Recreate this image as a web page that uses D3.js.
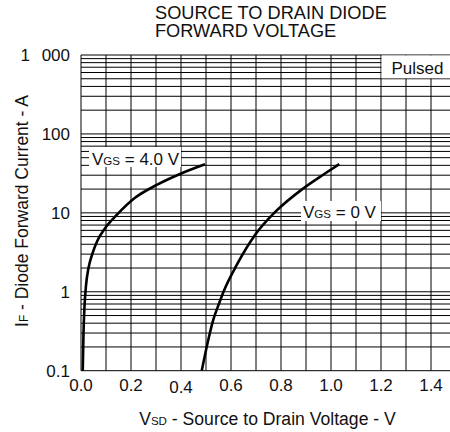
<!DOCTYPE html>
<html><head><meta charset="utf-8">
<script src="https://cdn.jsdelivr.net/npm/d3@7"></script>
<style>
html,body{margin:0;padding:0;background:#fff;}
svg{display:block;font-family:"Liberation Sans",Arial,Helvetica,sans-serif;}
</style></head>
<body>
<svg id="c" width="450" height="432"></svg>
<script>
// ---- data ----
const titleLines = ["SOURCE TO DRAIN DIODE", "FORWARD VOLTAGE"];
const xTickValues = [0, 0.2, 0.4, 0.6, 0.8, 1.0, 1.2, 1.4];
const xTickLabels = ["0.0", "0.2", "0.4", "0.6", "0.8", "1.0", "1.2", "1.4"];
const yTickValues = [0.1, 1, 10, 100, 1000];
const yTickLabels = ["0.1", "1", "10", "100", "1 000"];
// V_GS = 4.0 V
const vgs4V = [0.007, 0.010, 0.014, 0.020, 0.030, 0.045, 0.065, 0.095, 0.143, 0.216, 0.303, 0.403, 0.496];
const vgs4I = [0.1, 0.3, 0.65, 1.2, 2.0, 3.0, 4.4, 6.3, 9.4, 15.5, 22.6, 31.8, 41.3];
// V_GS = 0 V
const vgs0V = [0.483, 0.509, 0.529, 0.553, 0.570, 0.623, 0.696, 0.780, 0.890, 0.976, 1.033];
const vgs0I = [0.1, 0.245, 0.44, 0.72, 1.0, 2.19, 5.25, 10.5, 20.5, 31.5, 41.5];

// ---- layout ----
const svg = d3.select("#c");
const x = d3.scaleLinear().domain([0, 1.5]).range([81, 456]);
const y = d3.scaleLog().domain([0.1, 1000]).range([370.7, 55]);
const FS = 17;

// grid
const g = svg.append("g");
const xGrid = d3.range(0, 16).map(i => i / 10);
g.selectAll("line.vg").data(xGrid).join("line")
  .attr("x1", d => x(d)).attr("x2", d => x(d))
  .attr("y1", y(1000)).attr("y2", y(0.1))
  .attr("stroke", "#000").attr("stroke-width", 1);
const yGrid = [];
[0.1, 1, 10, 100].forEach(dec => { for (let k = 1; k <= 9; k++) yGrid.push(dec * k); });
yGrid.push(1000);
g.selectAll("line.hg").data(yGrid).join("line")
  .attr("x1", x(0)).attr("x2", x(1.5))
  .attr("y1", d => y(d)).attr("y2", d => y(d))
  .attr("stroke", "#000").attr("stroke-width", 1);

// label boxes (white, no border)
svg.append("rect").attr("x", x(1.2) + 0.5).attr("y", y(1000) + 0.5)
  .attr("width", x(1.5) - x(1.2)).attr("height", y(500) - y(1000) - 1).attr("fill", "#fff");
svg.append("rect").attr("x", 89).attr("y", 147).attr("width", 92).attr("height", 20).attr("fill", "#fff");
svg.append("rect").attr("x", 301).attr("y", 201).attr("width", 80).attr("height", 20).attr("fill", "#fff");

// curves
const line = d3.line().x(d => x(d[0])).y(d => y(d[1])).curve(d3.curveMonotoneX);
svg.append("path").datum(vgs4V.map((v, i) => [v, vgs4I[i]]))
  .attr("d", line).attr("fill", "none").attr("stroke", "#000").attr("stroke-width", 2.6);
svg.append("path").datum(vgs0V.map((v, i) => [v, vgs0I[i]]))
  .attr("d", line).attr("fill", "none").attr("stroke", "#000").attr("stroke-width", 2.6);

// axes ticks labels
svg.append("g").selectAll("text").data(xTickValues).join("text")
  .attr("x", d => x(d)).attr("y", d => d === 0.4 ? 393 : 391).attr("text-anchor", "middle")
  .attr("font-size", FS).attr("fill", "#111").text((d, i) => xTickLabels[i]);
svg.append("g").selectAll("text").data(yTickValues).join("text")
  .attr("x", 70).attr("y", d => y(d) + 6).attr("text-anchor", "end")
  .attr("font-size", FS).attr("fill", "#111")
  .style("word-spacing", d => d === 1000 ? "7px" : null)
  .text((d, i) => yTickLabels[i]);

// title (one text element, two lines)
svg.append("text").attr("font-size", 18.2).attr("fill", "#111")
  .selectAll("tspan").data(titleLines).join("tspan")
  .attr("x", 155).attr("y", (d, i) => 19.3 + i * 17.4)
  .text(d => d);

// in-plot labels
function subLabel(px, py, main, sub, rest, anchor) {
  const t = svg.append("text").attr("x", px).attr("y", py).attr("font-size", FS)
    .attr("fill", "#111").attr("text-anchor", anchor || "start");
  t.append("tspan").text(main);
  t.append("tspan").attr("font-size", FS * 0.68).text(sub);
  t.append("tspan").text(rest);
  return t;
}
subLabel(92, 165, "V", "GS", " = 4.0 V");
subLabel(303, 218, "V", "GS", " = 0 V");
svg.append("text").attr("x", 391.5).attr("y", 74).attr("font-size", FS).attr("fill", "#111").text("Pulsed");

// axis titles
subLabel(267.5, 425, "V", "SD", " - Source to Drain Voltage - V", "middle").attr("font-size", 17.6);
const yt = svg.append("text").attr("transform", "translate(28,211) rotate(-90)")
  .attr("text-anchor", "middle").attr("font-size", 17.5).attr("fill", "#111");
yt.append("tspan").text("I");
yt.append("tspan").attr("font-size", 17.5 * 0.68).text("F");
yt.append("tspan").text("  -  Diode Forward Current - A");
</script>
</body></html>
